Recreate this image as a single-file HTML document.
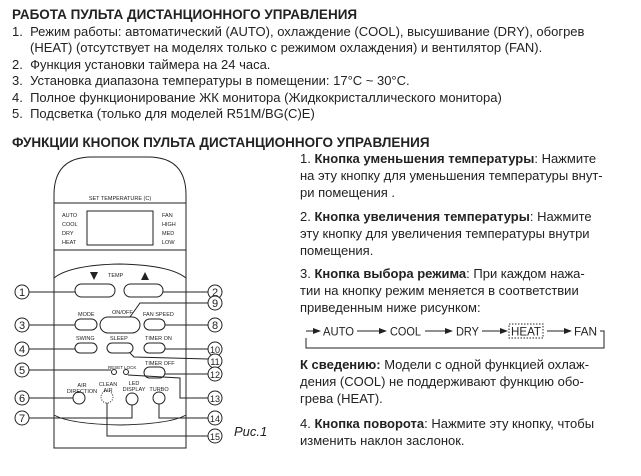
<!DOCTYPE html>
<html><head><meta charset="utf-8"><style>
body{margin:0;width:641px;height:476px;background:#fff;position:relative;overflow:hidden;font-family:"Liberation Sans",sans-serif;color:#222}
.l{position:absolute;font-size:13px;white-space:nowrap;line-height:16px}
.b{font-weight:bold}
svg{position:absolute;left:0;top:0}
</style></head><body>
<div class="l b" style="left:12px;top:7px;font-size:13.5px">РАБОТА ПУЛЬТА ДИСТАНЦИОННОГО УПРАВЛЕНИЯ</div>
<div class="l" style="left:12px;top:24px">1.&nbsp; Режим работы: автоматический (AUTO), охлаждение (COOL), высушивание (DRY), обогрев</div>
<div class="l" style="left:30px;top:40px">(HEAT) (отсутствует на моделях только с режимом охлаждения) и вентилятор (FAN).</div>
<div class="l" style="left:12px;top:57px">2.&nbsp; Функция установки таймера на 24 часа.</div>
<div class="l" style="left:12px;top:73px">3.&nbsp; Установка диапазона температуры в помещении: 17°C ~ 30°C.</div>
<div class="l" style="left:12px;top:90px">4.&nbsp; Полное функционирование ЖК монитора (Жидкокристаллического монитора)</div>
<div class="l" style="left:12px;top:106px">5.&nbsp; Подсветка (только для моделей R51M/BG(C)E)</div>
<div class="l b" style="left:12px;top:135px;font-size:13.5px">ФУНКЦИИ КНОПОК ПУЛЬТА ДИСТАНЦИОННОГО УПРАВЛЕНИЯ</div>

<div class="l" style="left:300px;top:151px">1. <b>Кнопка уменьшения температуры</b>: Нажмите</div>
<div class="l" style="left:300px;top:168px">на эту кнопку для уменьшения температуры внут-</div>
<div class="l" style="left:300px;top:185px">ри помещения .</div>
<div class="l" style="left:300px;top:209px">2. <b>Кнопка увеличения температуры</b>: Нажмите</div>
<div class="l" style="left:300px;top:226px">эту кнопку для увеличения температуры внутри</div>
<div class="l" style="left:300px;top:243px">помещения.</div>
<div class="l" style="left:300px;top:266px">3. <b>Кнопка выбора режима</b>: При каждом нажа-</div>
<div class="l" style="left:300px;top:283px">тии на кнопку режим меняется в соответствии</div>
<div class="l" style="left:300px;top:300px">приведенным ниже рисунком:</div>
<div class="l" style="left:300px;top:357px"><b>К сведению:</b> Модели с одной функцией охлаж-</div>
<div class="l" style="left:300px;top:374px">дения (COOL) не поддерживают функцию обо-</div>
<div class="l" style="left:300px;top:391px">грева (HEAT).</div>
<div class="l" style="left:300px;top:416px">4. <b>Кнопка поворота</b>: Нажмите эту кнопку, чтобы</div>
<div class="l" style="left:300px;top:433px">изменить наклон заслонок.</div>
<div class="l" style="left:234px;top:424px;font-style:italic">Рис.1</div>

<svg width="641" height="476" xmlns="http://www.w3.org/2000/svg" font-family="Liberation Sans, sans-serif">
<g stroke="#222" stroke-width="1" fill="none">
<polyline points="306,338 306,348 604,348 604,331 600,331"/>
<line x1="306" y1="331" x2="315" y2="331"/>
<line x1="357" y1="331" x2="380" y2="331"/>
<line x1="425" y1="331" x2="446" y2="331"/>
<line x1="482" y1="331" x2="502" y2="331"/>
<line x1="547" y1="331" x2="566" y2="331"/>
<rect x="509" y="324" width="34" height="14" stroke-dasharray="1.5,1.5"/>
</g>
<g fill="#222">
<polygon points="321,331 313,328 313,334"/>
<polygon points="387,331 379,328 379,334"/>
<polygon points="453,331 445,328 445,334"/>
<polygon points="508,331 500,328 500,334"/>
<polygon points="572,331 564,328 564,334"/>
</g>
<g font-size="12" fill="#222">
<text x="323" y="335.5" textLength="31" lengthAdjust="spacingAndGlyphs">AUTO</text>
<text x="390" y="335.5" textLength="31" lengthAdjust="spacingAndGlyphs">COOL</text>
<text x="456" y="335.5" textLength="23" lengthAdjust="spacingAndGlyphs">DRY</text>
<text x="511" y="335.5" textLength="30" lengthAdjust="spacingAndGlyphs">HEAT</text>
<text x="574" y="335.5" textLength="23" lengthAdjust="spacingAndGlyphs">FAN</text>
</g>

<g stroke="#222" stroke-width="1" fill="none">
<path d="M54,448 L54,195 Q54,157 92,157 L148,157 Q186,157 186,195 L186,448 Z"/>
<line x1="54" y1="203" x2="186" y2="203"/>
<line x1="54" y1="250" x2="186" y2="250"/>
<rect x="87" y="211" width="66" height="34"/>
<path d="M54,278 Q70,265 120,264 Q170,265 186,278"/>
<path d="M54,415 Q70,424 120,425 Q170,424 186,415"/>
<rect x="75" y="284" width="40" height="13" rx="6.5"/>
<rect x="124" y="284" width="39" height="13" rx="6.5"/>
<rect x="75" y="319" width="22" height="11" rx="5.5"/>
<rect x="100" y="317" width="40" height="16" rx="8"/>
<rect x="144" y="319" width="21" height="11" rx="5.5"/>
<rect x="75" y="343" width="22" height="10" rx="5"/>
<rect x="107" y="343" width="26" height="10" rx="5"/>
<rect x="144" y="343" width="21" height="10" rx="5"/>
<rect x="144" y="367" width="21" height="11" rx="5.5"/>
<circle cx="114" cy="372" r="2.5"/><circle cx="126" cy="372" r="2.5"/>
<circle cx="79" cy="398" r="6"/>
<circle cx="107" cy="397" r="6" stroke-dasharray="1,1.5"/>
<circle cx="132" cy="399" r="6"/>
<circle cx="159" cy="398" r="6"/>
<line x1="29" y1="292" x2="75" y2="292"/>
<line x1="163" y1="292" x2="208" y2="292"/>
<polyline points="130,317 140,303 208,303"/>
<line x1="29" y1="325" x2="75" y2="325"/>
<line x1="165" y1="325" x2="208" y2="325"/>
<line x1="29" y1="349" x2="75" y2="349"/>
<line x1="165" y1="349" x2="208" y2="349"/>
<polyline points="130,353 134,357 208,359"/>
<line x1="29" y1="370" x2="111" y2="370"/>
<line x1="165" y1="374" x2="208" y2="374"/>
<polyline points="128,375 180,378 180,398 208,398"/>
<line x1="29" y1="398" x2="73" y2="398"/>
<polyline points="29,418 132,418 132,405"/>
<polyline points="159,404 159,418 208,418"/>
<polyline points="107,403 107,436 208,436"/>
</g>
<g stroke="#222" fill="#fff" stroke-width="1">
<circle cx="22" cy="292" r="7"/><circle cx="215" cy="292" r="7"/>
<circle cx="215" cy="303" r="7"/><circle cx="22" cy="325" r="7"/>
<circle cx="215" cy="325" r="7"/><circle cx="22" cy="349" r="7"/>
<circle cx="215" cy="349" r="7"/><circle cx="215" cy="361" r="7"/>
<circle cx="22" cy="370" r="7"/><circle cx="215" cy="374" r="7"/>
<circle cx="22" cy="398" r="7"/><circle cx="215" cy="398" r="7"/>
<circle cx="22" cy="418" r="7"/><circle cx="215" cy="418" r="7"/>
<circle cx="215" cy="436" r="7"/>
</g>
<g font-size="11" fill="#222" text-anchor="middle">
<text x="22" y="296">1</text><text x="215" y="296">2</text><text x="215" y="307">9</text>
<text x="22" y="329">3</text><text x="215" y="329">8</text><text x="22" y="353">4</text>
<text x="215" y="353" font-size="9">10</text><text x="215" y="365" font-size="9">11</text>
<text x="22" y="374">5</text><text x="215" y="378" font-size="9">12</text>
<text x="22" y="402">6</text><text x="215" y="402" font-size="9">13</text>
<text x="22" y="422">7</text><text x="215" y="422" font-size="9">14</text>
<text x="215" y="440" font-size="9">15</text>
</g>
<g font-size="5.5" fill="#222">
<text x="120" y="200" text-anchor="middle">SET TEMPERATURE (C)</text>
<text x="62" y="217">AUTO</text><text x="62" y="226">COOL</text><text x="62" y="235">DRY</text><text x="62" y="244">HEAT</text>
<text x="162" y="217">FAN</text><text x="162" y="226">HIGH</text><text x="162" y="235">MED</text><text x="162" y="244">LOW</text>
<text x="108" y="277">TEMP</text>
<text x="78" y="316">MODE</text><text x="112" y="314">ON/OFF</text><text x="143" y="316">FAN SPEED</text>
<text x="76" y="340">SWING</text><text x="110" y="340">SLEEP</text><text x="145" y="340">TIMER ON</text>
<text x="145" y="365">TIMER OFF</text><text x="108" y="369" font-size="4.5">RESET LOCK</text>
<text x="82" y="387" text-anchor="middle">AIR</text><text x="82" y="393" text-anchor="middle">DIRECTION</text>
<text x="108" y="386" text-anchor="middle">CLEAN</text><text x="108" y="392" text-anchor="middle">AIR</text>
<text x="134" y="385" text-anchor="middle">LED</text><text x="134" y="391" text-anchor="middle">DISPLAY</text>
<text x="159" y="391" text-anchor="middle">TURBO</text>
</g>
<polygon points="90,272 98,272 94,280" fill="#222"/>
<polygon points="141,280 149,280 145,272" fill="#222"/>
</svg>
</body></html>
